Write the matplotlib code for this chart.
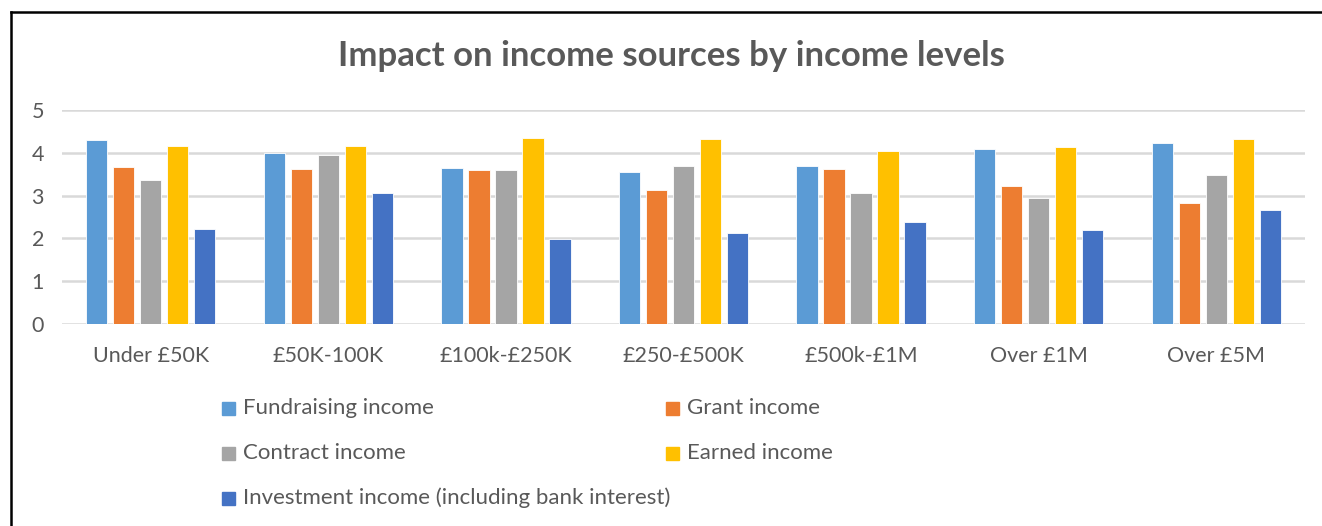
import numpy as np
import matplotlib.pyplot as plt
from matplotlib.lines import Line2D

plt.rcParams['font.family'] = ['Lato', 'DejaVu Sans']

categories = ["Under £50K", "£50K-100K", "£100k-£250K", "£250-£500K",
              "£500k-£1M", "Over £1M", "Over £5M"]
series = ["Fundraising income", "Grant income", "Contract income",
          "Earned income", "Investment income (including bank interest)"]
fundraising = [4.30, 3.99, 3.65, 3.55, 3.70, 4.08, 4.24]
grant = [3.66, 3.62, 3.60, 3.12, 3.62, 3.22, 2.82]
contract = [3.36, 3.95, 3.60, 3.70, 3.07, 2.94, 3.49]
earned = [4.16, 4.15, 4.34, 4.32, 4.05, 4.13, 4.32]
investment = [2.21, 3.07, 1.99, 2.13, 2.38, 2.20, 2.66]
colors = ["#5B9BD5", "#ED7D31", "#A5A5A5", "#FFC000", "#4472C4"]

txt = "#595959"
fig = plt.figure(figsize=(13.22, 5.26), dpi=100)
ax = fig.add_axes([62/1322, 1 - 324/526, (1305-62)/1322, (324-110)/526])

x = np.arange(len(categories))
width = 0.12
step = 0.152
values = [fundraising, grant, contract, earned, investment]
for i, (vals, c, name) in enumerate(zip(values, colors, series)):
    ax.bar(x + (i - 2) * step, vals, width, color=c, label=name,
           edgecolor="white", linewidth=0.6, zorder=3)

ax.set_xlim(-0.5, len(categories) - 0.5)
ax.set_ylim(0, 5)
ax.set_yticks(range(6))
ax.yaxis.grid(True, color="#D9D9D9", linewidth=1.8, zorder=0)
for s in ax.spines.values():
    s.set_visible(False)
ax.tick_params(axis='both', length=0, labelsize=15.5, colors=txt)
ax.tick_params(axis='y', pad=13)
ax.tick_params(axis='x', pad=16)
ax.set_xticks(x)
ax.set_xticklabels(categories)

fig.text(0.508, 1 - 56/526, "Impact on income sources by income levels",
         ha='center', va='center', fontsize=25, fontweight='bold', color=txt)

# legend laid out in two columns, filled row by row
pos = [(228, 408), (672, 408), (228, 453), (672, 453), (228, 498)]
for (px, py), c, name in zip(pos, colors, series):
    fig.patches.append(plt.Rectangle((px / 1322 - 6/1322, 1 - py/526 - 7/526),
                                     13/1322, 13/526, color=c,
                                     transform=fig.transFigure, figure=fig))
    fig.text((px + 15) / 1322, 1 - py/526, name, ha='left', va='center',
             fontsize=16, color=txt)

# chart frame
fig.add_artist(Line2D([11/1322, 11/1322], [0, 1 - 12/526], color="black",
                      linewidth=1.8, transform=fig.transFigure))
fig.add_artist(Line2D([11/1322, 1], [1 - 12/526, 1 - 12/526], color="black",
                      linewidth=1.8, transform=fig.transFigure))

fig.savefig("out.png", dpi=100, facecolor="white")
